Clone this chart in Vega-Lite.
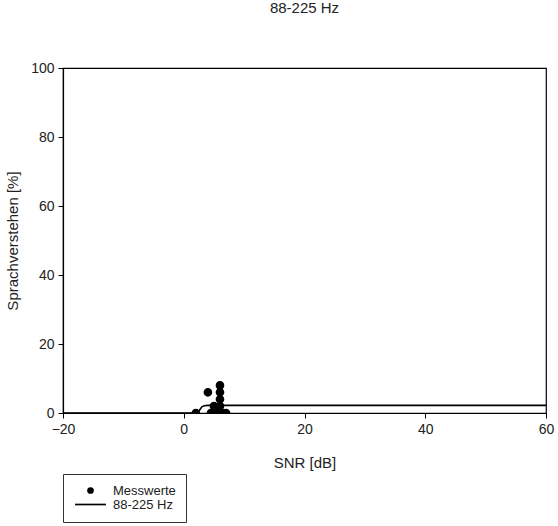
{
  "$schema": "https://vega.github.io/schema/vega-lite/v6.json",
  "width": 483,
  "height": 345,
  "autosize": "none",
  "padding": {"left": 63, "top": 68, "right": 12, "bottom": 113},
  "background": "white",
  "config": {
    "font": "Liberation Sans",
    "view": {"stroke": "black", "strokeWidth": 1.2},
    "axis": {
      "grid": false,
      "domainColor": "black",
      "domainWidth": 1.2,
      "tickColor": "black",
      "tickSize": 5,
      "labelFlush": false,
      "labelFont": "Liberation Sans",
      "labelFontSize": 14,
      "labelColor": "#222",
      "titleFont": "Liberation Sans",
      "titleFontSize": 15,
      "titleFontWeight": "normal",
      "titleColor": "#222"
    }
  },
  "title": {
    "text": "88-225 Hz",
    "fontSize": 15,
    "fontWeight": "normal",
    "font": "Liberation Sans",
    "color": "#222",
    "offset": 45
  },
  "datasets": {
    "messwerte": [
      {"snr": 2, "pct": 0, "series": "Messwerte"},
      {"snr": 4, "pct": 6, "series": "Messwerte"},
      {"snr": 4.5, "pct": 0, "series": "Messwerte"},
      {"snr": 5, "pct": 0, "series": "Messwerte"},
      {"snr": 5, "pct": 2, "series": "Messwerte"},
      {"snr": 5.5, "pct": 0, "series": "Messwerte"},
      {"snr": 6, "pct": 0, "series": "Messwerte"},
      {"snr": 6, "pct": 2, "series": "Messwerte"},
      {"snr": 6, "pct": 4, "series": "Messwerte"},
      {"snr": 6, "pct": 6, "series": "Messwerte"},
      {"snr": 6, "pct": 8, "series": "Messwerte"},
      {"snr": 6.5, "pct": 0, "series": "Messwerte"},
      {"snr": 7, "pct": 0, "series": "Messwerte"}
    ],
    "fit": [
      {"snr": -20, "pct": 0},
      {"snr": 2.2, "pct": 0},
      {"snr": 2.6, "pct": 0.8},
      {"snr": 3.0, "pct": 1.8},
      {"snr": 3.4, "pct": 2.1},
      {"snr": 4, "pct": 2.2},
      {"snr": 60, "pct": 2.2}
    ]
  },
  "layer": [
    {
      "data": {"name": "fit"},
      "mark": {"type": "line", "color": "black", "strokeWidth": 1.6, "clip": true},
      "encoding": {
        "x": {"field": "snr", "type": "quantitative"},
        "y": {"field": "pct", "type": "quantitative"}
      }
    },
    {
      "data": {"name": "messwerte"},
      "mark": {"type": "point", "filled": true, "opacity": 1, "fill": "black", "stroke": "black", "strokeWidth": 1.6, "size": 50, "clip": true},
      "encoding": {
        "x": {
          "field": "snr",
          "type": "quantitative",
          "scale": {"domain": [-20, 60], "nice": false, "zero": false},
          "axis": {"values": [-20, 0, 20, 40, 60], "title": "SNR [dB]", "titlePadding": 19, "labelPadding": 4}
        },
        "y": {
          "field": "pct",
          "type": "quantitative",
          "scale": {"domain": [0, 100], "nice": false},
          "axis": {"values": [0, 20, 40, 60, 80, 100], "title": "Sprachverstehen [%]", "titleX": -51, "titleBaseline": "middle", "labelPadding": 4}
        },
        "shape": {
          "field": "series",
          "type": "nominal",
          "scale": {"domain": ["Messwerte", "88-225 Hz"], "range": ["circle", "M-4.6,-0.25H4.6V0.25H-4.6Z"]},
          "legend": {
            "title": null,
            "orient": "none",
            "legendX": 0,
            "legendY": 406,
            "strokeColor": "#333",
            "fillColor": "white",
            "padding": 10,
            "symbolSize": 45,
            "symbolOffset": 11,
            "symbolStrokeColor": "black",
            "symbolStrokeWidth": 1.6,
            "symbolFillColor": "black",
            "labelFontSize": 13,
            "labelFont": "Liberation Sans",
            "labelColor": "#222",
            "labelOffset": 16,
            "rowPadding": 0
          }
        }
      }
    }
  ]
}
